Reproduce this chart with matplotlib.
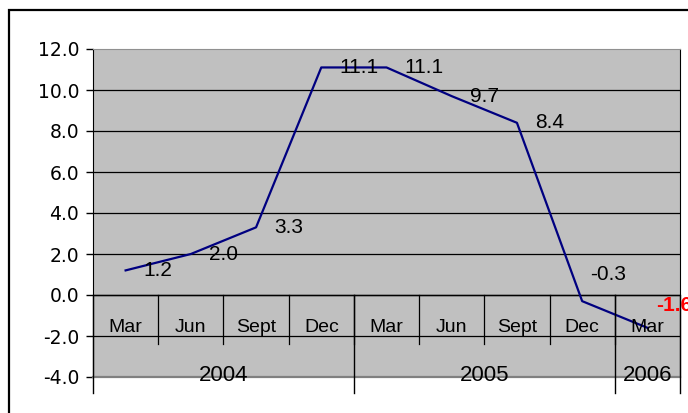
import matplotlib.pyplot as plt
from matplotlib.patches import Rectangle

# data
months = ['Mar', 'Jun', 'Sept', 'Dec', 'Mar', 'Jun', 'Sept', 'Dec', 'Mar']
years = ['2004', '2005', '2006']
year_counts = [4, 4, 1]  # quarters per year group
values = [1.2, 2.0, 3.3, 11.1, 11.1, 9.7, 8.4, -0.3, -1.6]
labels = ['1.2', '2.0', '3.3', '11.1', '11.1', '9.7', '8.4', '-0.3', '-1.6']
yticks = [-4, -2, 0, 2, 4, 6, 8, 10, 12]

W, H = 688, 413
fig = plt.figure(figsize=(W / 100, H / 100), dpi=100)
ax = fig.add_axes([93 / W, 1 - 377 / H, (680 - 93) / W, (377 - 49) / H])
ax.set_facecolor('#c0c0c0')

n = len(values)
xs = [i + 0.5 for i in range(n)]
ax.set_xlim(0, n)
ax.set_ylim(-4, 12)

# gridlines
for t in yticks[1:-1]:
    ax.axhline(t, color='black', lw=0.9, zorder=1)
ax.axhline(0, color='black', lw=1, zorder=2)

ax.plot(xs, values, color='#000080', lw=1.6, zorder=3)

# data labels: right of the point, negative ones sit above-right
for x, v, s in zip(xs[:-1], values[:-1], labels[:-1]):
    off = (13, 0) if v >= 0 else (6, 19)
    ax.annotate(s, (x, v), xytext=off, textcoords='offset points',
                ha='left', va='center', fontsize=15, family='Liberation Sans', zorder=4)
ax.annotate(labels[-1], (xs[-1], values[-1]), xytext=(6, 16), textcoords='offset points',
            ha='left', va='center', fontsize=15, fontweight='bold', color='red',
            family='Liberation Sans', zorder=4, annotation_clip=False)

# category axis: month ticks and labels
for i in range(1, n):
    ax.plot([i, i], [0, -2.4], color='black', lw=0.9, zorder=2, clip_on=False)
for x, m in zip(xs, months):
    ax.text(x, -1.6, m, ha='center', va='center', fontsize=14, family='Liberation Sans', zorder=4)

# year groups
start = 0
bounds = [0]
for y, c in zip(years, year_counts):
    ax.text(start + c / 2, -3.95, y, ha='center', va='center', fontsize=16,
            family='Liberation Sans', zorder=4)
    start += c
    bounds.append(start)
for b in bounds:
    ax.plot([b, b], [0, -4.78], color='black', lw=1, zorder=5, clip_on=False)

# axes styling
ax.set_xticks([])
ax.set_yticks(yticks)
ax.set_yticklabels([f'{t:.1f}' for t in yticks])
ax.tick_params(axis='y', direction='out', length=5, width=1, pad=5, labelsize=13.5)
for lab in ax.get_yticklabels():
    lab.set_family('DejaVu Sans')
ax.spines['top'].set_color('#909090')
ax.spines['bottom'].set_color('#808080')
ax.spines['bottom'].set_linewidth(1.6)
ax.spines['left'].set_color('black')
ax.spines['right'].set_color('black')

# outer chart frame (runs off the right and bottom edges)
fig.add_artist(Rectangle((9 / W, -0.1), 1.2, 1 - 10 / H + 0.1, transform=fig.transFigure,
                         fill=False, ec='black', lw=1.6))

fig.savefig('out.png', dpi=100)
